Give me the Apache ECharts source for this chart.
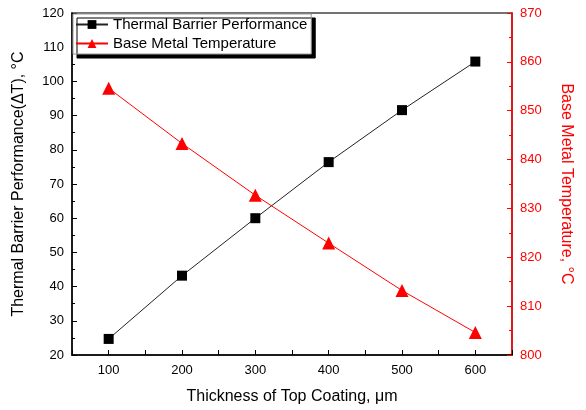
<!DOCTYPE html>
<html>
<head>
<meta charset="utf-8">
<script src="https://cdn.jsdelivr.net/npm/echarts@6/dist/echarts.min.js"></script>
<style>
  html, body { margin: 0; padding: 0; background: #fff; }
  #chart { width: 586px; height: 410px; }
</style>
</head>
<body>
<div id="chart"></div>
<script>
// thickness of top coating (um)
const thickness = [100, 200, 300, 400, 500, 600]
// thermal barrier performance, delta T (C)
const barrierPerf = [24.7, 43.2, 60.0, 76.4, 91.6, 105.8]
// base metal temperature (C)
const metalTemp = [854.6, 843.3, 832.7, 822.9, 813.2, 804.6]

const font = 'Liberation Sans, Arial, sans-serif'

const chart = echarts.init(document.getElementById('chart'))

const pairs = (ys) => thickness.map((x, i) => [x, ys[i]])

chart.setOption({
  animation: false,
  textStyle: { fontFamily: font },
  grid: {
    left: 72, top: 13, right: 74, bottom: 53,
    show: true, borderColor: '#444', borderWidth: 1.5
  },
  legend: {
    left: 73, top: 14,
    orient: 'vertical',
    itemWidth: 32, itemHeight: 11, itemGap: 4,
    padding: [3, 4, 3, 2],
    backgroundColor: '#fff',
    borderColor: '#999', borderWidth: 1,
    shadowColor: '#000', shadowOffsetX: 4, shadowOffsetY: 4, shadowBlur: 0,
    textStyle: { fontSize: 15, color: '#000', fontFamily: font },
    data: ['Thermal Barrier Performance', 'Base Metal Temperature']
  },
  xAxis: {
    type: 'value', min: 50, max: 650, interval: 50,
    name: 'Thickness of Top Coating, \u03bcm',
    nameLocation: 'middle', nameGap: 34,
    nameTextStyle: { fontSize: 16, color: '#000' },
    axisLine: { lineStyle: { color: '#000', width: 1.5 } },
    axisTick: { inside: true, length: 5, lineStyle: { color: '#000' } },
    axisLabel: {
      fontSize: 13, color: '#000', margin: 9,
      formatter: (v) => (v % 100 === 0 && v >= 100 && v <= 600) ? String(v) : ''
    },
    splitLine: { show: false }
  },
  yAxis: [
    {
      type: 'value', min: 20, max: 120, interval: 10,
      position: 'left',
      name: 'Thermal Barrier Performance(\u0394T), \u00b0C',
      nameLocation: 'middle', nameGap: 45, nameRotate: 90,
      nameTextStyle: { fontSize: 16, color: '#000' },
      axisLine: { show: true, lineStyle: { color: '#000', width: 1.5 } },
      axisTick: { inside: true, length: 5, lineStyle: { color: '#000' } },
      minorTick: { show: true, splitNumber: 2, length: 3, lineStyle: { color: '#000' } },
      axisLabel: { fontSize: 13, color: '#000', margin: 8 },
      splitLine: { show: false }
    },
    {
      type: 'value', min: 800, max: 870, interval: 10,
      position: 'right',
      name: 'Base Metal Temperature, \u00b0C',
      nameLocation: 'middle', nameGap: 46, nameRotate: -90,
      nameTextStyle: { fontSize: 16, color: '#f00' },
      axisLine: { show: true, lineStyle: { color: '#f00', width: 1.5 } },
      axisTick: { inside: true, length: 5, lineStyle: { color: '#f00' } },
      minorTick: { show: true, splitNumber: 2, length: 3, lineStyle: { color: '#f00' } },
      axisLabel: { fontSize: 13, color: '#f00', margin: 8 },
      splitLine: { show: false }
    }
  ],
  series: [
    {
      name: 'Thermal Barrier Performance',
      type: 'line', yAxisIndex: 0,
      data: pairs(barrierPerf),
      symbol: 'rect', symbolSize: 10,
      itemStyle: { color: '#000' },
      lineStyle: { color: '#222', width: 1 }
    },
    {
      name: 'Base Metal Temperature',
      type: 'line', yAxisIndex: 1,
      data: pairs(metalTemp),
      symbol: 'triangle', symbolSize: 13,
      itemStyle: { color: '#f00' },
      lineStyle: { color: '#f00', width: 1 }
    }
  ]
})
</script>
</body>
</html>
